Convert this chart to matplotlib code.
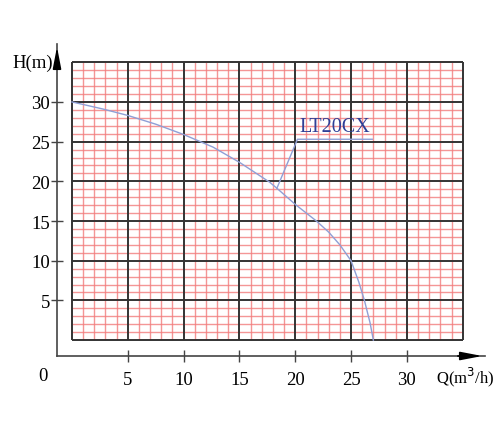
import numpy as np
import matplotlib.pyplot as plt

# pump curve LT20CX
q = [0, 2.8, 5, 7.5, 10, 12.65, 15, 17.7, 18.3, 20, 21.9, 23, 24, 25, 25.7, 26.2, 26.7, 27]
h = [30, 29.1, 28.3, 27.2, 25.9, 24.3, 22.4, 19.9, 19.2, 17.1, 15.0, 13.6, 12.0, 10.0, 7.3, 5.0, 2.2, 0]
ticks = [5, 10, 15, 20, 25, 30]
model = "LT20CX"

serif = ["Liberation Serif", "DejaVu Serif"]

fig = plt.figure(figsize=(5, 4.35), dpi=100)
ax = fig.add_axes([0.114, 0.1793, 0.856, 0.7173])
ax.set_xlim(-1.34, 37.0)
ax.set_ylim(-2, 37.3)

# millimetre paper grid
minor = [v for v in range(1, 35) if v % 5]
major = list(range(0, 36, 5))
ax.vlines(minor, 0, 35, color="#f27c7c", lw=1.0, alpha=0.8, zorder=1)
ax.hlines(minor, 0, 35, color="#f27c7c", lw=1.0, alpha=0.8, zorder=1)
ax.vlines(major, 0, 35, color="#333333", lw=1.4, zorder=2)
ax.hlines(major, 0, 35, color="#333333", lw=1.4, zorder=2)

# curve
ax.plot(q, h, color="#8f9fd6", lw=1.0, zorder=3)

# label with leader
ax.plot([18.35, 20.2, 26.9], [19.1, 25.3, 25.3], color="#8f9fd6", lw=1.0, zorder=3)
ax.text(20.4, 25.7, model, color="#2e3f96", fontsize=14.5, family=serif,
        ha="left", va="bottom", zorder=4)

# axes
for s in ["top", "right"]:
    ax.spines[s].set_visible(False)
for s in ["left", "bottom"]:
    ax.spines[s].set_color("#444444")
    ax.spines[s].set_linewidth(1.2)
arrow = dict(arrowstyle="-|>,head_length=1.3,head_width=0.25",
             color="black", lw=1.2, mutation_scale=10)
ax.annotate("", xy=(1.0, 0), xytext=(0.93, 0), xycoords="axes fraction",
            arrowprops=arrow, annotation_clip=False)
ax.annotate("", xy=(0, 1.0), xytext=(0, 0.92), xycoords="axes fraction",
            arrowprops=arrow, annotation_clip=False)

ax.set_xticks(ticks)
ax.set_yticks(ticks)
ax.tick_params(direction="inout", length=8, width=1.0, color="#444444",
               labelsize=13.5)
for lab in ax.get_xticklabels() + ax.get_yticklabels():
    lab.set_family(serif)
ax.tick_params(axis="x", pad=7)
ax.tick_params(axis="y", pad=1)

fig.text(43 / 500, 1 - 377 / 435, "0", fontsize=13.5, family=serif,
         ha="center", va="center")
fig.text(436 / 500, 1 - 377 / 435, "Q(m$^3$/h)", fontsize=12, family=serif,
         ha="left", va="center")
fig.text(53 / 500, 1 - 63 / 435, "H(m)", fontsize=13.5, family=serif,
         ha="right", va="center")

fig.savefig("out.png", dpi=100)
